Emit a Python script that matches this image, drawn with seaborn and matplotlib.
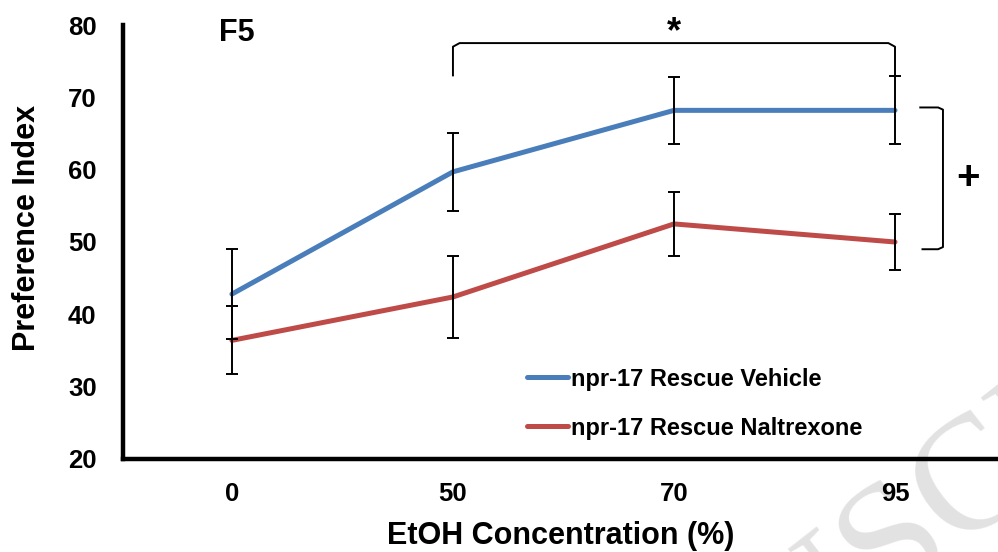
import numpy as np
import pandas as pd
import seaborn as sns
import matplotlib.pyplot as plt
from matplotlib.textpath import TextPath
from matplotlib.font_manager import FontProperties

# EtOH concentrations (%) on the x axis
concentrations = ["0", "50", "70", "95"]
groups = ["npr-17 Rescue Vehicle", "npr-17 Rescue Naltrexone"]

# Mean preference index and SEM per group
vehicle_mean = [42.8, 59.7, 68.2, 68.2]
vehicle_sem = [6.2, 5.4, 4.6, 4.7]
naltrexone_mean = [36.4, 42.4, 52.5, 50.0]
naltrexone_sem = [4.7, 5.7, 4.4, 3.9]

y_ticks = [20, 30, 40, 50, 60, 70, 80]
colors = {"npr-17 Rescue Vehicle": "#4a7ebb", "npr-17 Rescue Naltrexone": "#be4b48"}

positions = np.arange(len(concentrations))
df = pd.DataFrame({
    "pos": np.concatenate([positions, positions]),
    "pi": vehicle_mean + naltrexone_mean,
    "sem": vehicle_sem + naltrexone_sem,
    "group": [groups[0]] * len(positions) + [groups[1]] * len(positions),
})

sns.set_style("white")
plt.rcParams["font.family"] = ["Liberation Sans", "DejaVu Sans"]
for key in ["text.color", "axes.labelcolor", "xtick.color", "ytick.color"]:
    plt.rcParams[key] = "black"

W, H, DPI = 9.98, 5.52, 100
fig = plt.figure(figsize=(W, H), dpi=DPI)
ax = fig.add_axes([0.1232, 0.1685, 0.8768, 0.7862])
ax.set_zorder(1)
ax.patch.set_alpha(0)

sns.lineplot(data=df, x="pos", y="pi", hue="group", palette=colors,
             linewidth=3.6, sort=False, ax=ax, zorder=2)

for g in groups:
    sub = df[df["group"] == g]
    ax.errorbar(sub["pos"], sub["pi"], yerr=sub["sem"], fmt="none",
                ecolor="black", elinewidth=1.4, capsize=4.5, capthick=1.4,
                zorder=3)

ax.set_xlim(-0.493, 3.466)
ax.set_ylim(20, 80)
ax.set_xticks(positions, concentrations)
ax.set_yticks(y_ticks)
ax.tick_params(axis="both", labelsize=18.5, width=2.5, colors="black",
               direction="out", length=6.5)
ax.tick_params(axis="y", pad=12.5)
ax.tick_params(axis="x", length=4.5, pad=12)
for lab in ax.get_xticklabels() + ax.get_yticklabels():
    lab.set_fontweight("bold")

for side in ["top", "right"]:
    ax.spines[side].set_visible(False)
for side in ["left", "bottom"]:
    ax.spines[side].set_linewidth(3.2)
    ax.spines[side].set_color("black")

ax.set_xlabel("EtOH Concentration (%)", fontsize=22, fontweight="bold")
ax.set_ylabel("Preference Index", fontsize=22, fontweight="bold")
ax.xaxis.set_label_coords(0.5, -0.144)
ax.yaxis.set_label_coords(-0.092, 0.532)

# panel tag
ax.text(0.02, 78.9, "F5", fontsize=22, fontweight="bold", ha="center", va="center")

# significance bracket across concentrations 50-95
bk = dict(color="black", lw=1.4, solid_capstyle="butt", zorder=4)
ax.plot([1.0, 1.0, 1.03, 2.97, 3.0, 3.0], [72.9, 77.0, 77.5, 77.5, 77.0, 72.9], **bk)
ax.text(2.0, 78.9, "*", fontsize=26, fontweight="bold", ha="center", va="center")

# group bracket at the right
ax.plot([3.11, 3.195, 3.217, 3.217, 3.195, 3.12],
        [68.6, 68.6, 68.3, 49.3, 49.0, 49.0], **bk)
ax.text(3.33, 58.8, "+", fontsize=29, fontweight="bold", ha="center", va="center")

leg = ax.legend(frameon=False, loc="upper left", bbox_to_anchor=(0.451, 0.232),
                fontsize=17, handlelength=1.75, handletextpad=0.1,
                labelspacing=1.1, borderaxespad=0)
for t in leg.get_texts():
    t.set_fontweight("bold")

# faint diagonal watermark behind the plot
wm_size = 118
wm_angle = np.deg2rad(38)
wm_prop = FontProperties(family="Liberation Serif")
lead = TextPath((0, 0), "MANU", size=wm_size * DPI / 72, prop=wm_prop).get_extents().width + 10
s_x, s_y = 886, 604  # baseline-left of the "S", in pixels from the top-left
start_x = s_x - lead * np.cos(wm_angle)
start_y = s_y + lead * np.sin(wm_angle)
fig.text(start_x / (W * DPI), 1 - start_y / (H * DPI), "MANUSCRIPT",
         fontsize=wm_size, family="Liberation Serif", fontweight="normal",
         color="#e2e2e2", rotation=np.rad2deg(wm_angle), rotation_mode="anchor",
         ha="left", va="baseline", zorder=0)

fig.savefig("out.png", dpi=DPI)
